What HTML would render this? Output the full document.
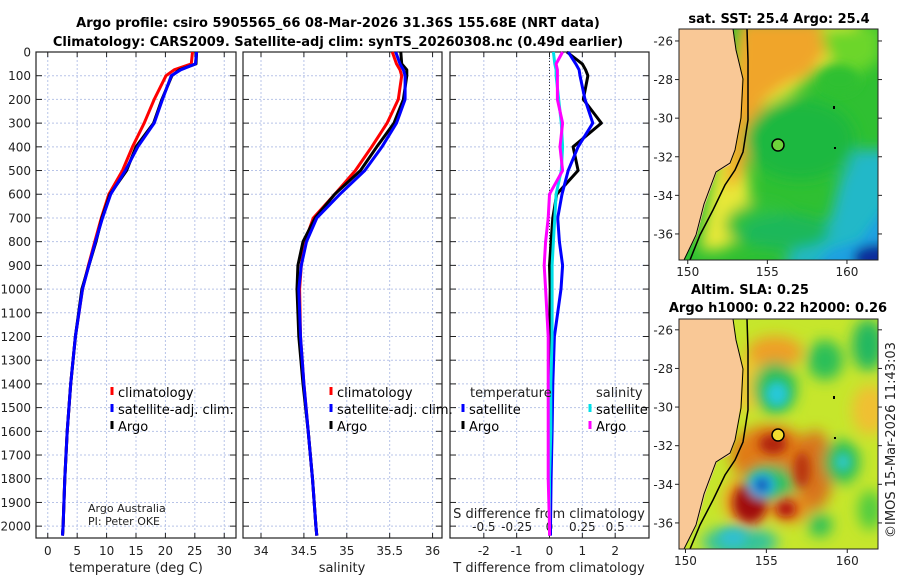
<!DOCTYPE html>
<html><head><meta charset="utf-8"><style>
body{margin:0;background:#fff;width:900px;height:580px;overflow:hidden;font-family:"DejaVu Sans","Liberation Sans",sans-serif}
svg{display:block}
text{font-family:"DejaVu Sans","Liberation Sans",sans-serif;fill:#222}
.t{font-weight:bold;font-size:13px;fill:#000}
.tk{font-size:12px}
.lg{font-size:13px;fill:#000}
</style></head><body>
<svg id="fig" width="900" height="580" viewBox="0 0 900 580" xmlns="http://www.w3.org/2000/svg">
<defs>
<filter id="blr" x="-20%" y="-20%" width="140%" height="140%"><feGaussianBlur stdDeviation="7"/></filter>
<filter id="blr2" x="-20%" y="-20%" width="140%" height="140%"><feGaussianBlur stdDeviation="5"/></filter>
<clipPath id="cm1"><rect x="679" y="29" width="199" height="231"/></clipPath>
<clipPath id="cm2"><rect x="679" y="319" width="199" height="230"/></clipPath>
</defs>
<text class="t" x="338" y="27" text-anchor="middle">Argo profile: csiro 5905565_66 08-Mar-2026 31.36S 155.68E (NRT data)</text>
<text class="t" x="338" y="46" text-anchor="middle">Climatology: CARS2009. Satellite-adj clim: synTS_20260308.nc (0.49d earlier)</text>
<g id="g1"></g>
<g id="g2"></g>
<g id="g3"></g>

<!-- SST map -->
<g>
<text class="t" x="779" y="23" text-anchor="middle">sat. SST: 25.4 Argo: 25.4</text>
<g clip-path="url(#cm1)">
<rect x="679" y="29" width="199" height="231" fill="#2fc032"/>
<g filter="url(#blr)">
<path d="M740 20 L860 20 L855 60 L820 70 L790 95 L760 110 L745 140 L750 200 L740 240 L720 250 L700 250 Z" fill="#e8e838"/>
<path d="M740 20 L820 20 L830 45 L810 75 L785 85 L765 100 L750 150 L740 180 L725 190 Z" fill="#f0a52a"/>
<path d="M855 150 L900 150 L900 270 L780 270 L800 240 L830 220 L840 180 Z" fill="#22b8c8"/>
<ellipse cx="760" cy="225" rx="35" ry="22" fill="#33c23a"/>
<ellipse cx="785" cy="232" rx="45" ry="18" fill="#1fb85a"/>
<ellipse cx="800" cy="140" rx="55" ry="40" fill="#1fb840"/>
<path d="M820 30 L880 25 L880 60 L850 80 L830 60 Z" fill="#6cd62c"/>
</g>
<g filter="url(#blr2)">
<path d="M890 200 L890 270 L810 270 L830 250 L860 240 Z" fill="#1ea0e0"/>
<ellipse cx="878" cy="258" rx="25" ry="14" fill="#0a2d9c"/>
<ellipse cx="840" cy="80" rx="20" ry="14" fill="#2fc032"/>
</g>
<path d="M660 20 L732 20 L734 40 L742 78 L740 118 L735 150 L730 165 L717 172 L705 205 L697 235 L684 260 L660 260 Z" fill="#f9c896"/>
<path d="M733 29 L736 50 L743 79 L741 118 L735 150 L730 163 L716 172 L704 204 L696 235 L684 260" fill="none" stroke="#000" stroke-width="1"/>
<path d="M747 29 L748 60 L748 90 L748 120 L743 152 L735 170 L725 185 L713 210 L700 235 L690 260" fill="none" stroke="#000" stroke-width="1.5"/>
</g>
<circle cx="778" cy="145" r="6" fill="#6fd23a" stroke="#000" stroke-width="1.5"/>
<rect x="833" y="106" width="2" height="3" fill="#000"/><rect x="834" y="147" width="2" height="2" fill="#000"/>
<rect x="679" y="29" width="199" height="231" fill="none" stroke="#222" stroke-width="1"/>
<g id="m1ticks"></g>
</g>

<!-- SLA map -->
<g>
<text class="t" x="750" y="294" text-anchor="middle">Altim. SLA: 0.25</text>
<text class="t" x="778" y="312" text-anchor="middle">Argo h1000: 0.22 h2000: 0.26</text>
<g clip-path="url(#cm2)">
<rect x="679" y="319" width="199" height="230" fill="#c6e62c"/>
<g filter="url(#blr)">
<ellipse cx="770" cy="455" rx="40" ry="30" fill="#e07a18"/>
<ellipse cx="815" cy="470" rx="18" ry="40" fill="#d8741c"/>
<ellipse cx="775" cy="352" rx="28" ry="16" fill="#ef9f28"/>
<ellipse cx="745" cy="385" rx="25" ry="25" fill="#f0c830"/>
<ellipse cx="870" cy="410" rx="18" ry="25" fill="#f0c030"/>
<ellipse cx="748" cy="500" rx="25" ry="25" fill="#f0a020"/>
<ellipse cx="790" cy="508" rx="20" ry="15" fill="#e68a1f"/>
<ellipse cx="775" cy="388" rx="22" ry="26" fill="#2cbf58"/>
<ellipse cx="825" cy="360" rx="18" ry="20" fill="#2cbf58"/>
<ellipse cx="842" cy="462" rx="18" ry="22" fill="#2cbf58"/>
<ellipse cx="868" cy="345" rx="16" ry="26" fill="#22b860"/>
<ellipse cx="740" cy="542" rx="38" ry="16" fill="#35c39a"/>
<ellipse cx="770" cy="483" rx="26" ry="18" fill="#2cc060"/>
<ellipse cx="820" cy="525" rx="12" ry="12" fill="#2cbf58"/>
<ellipse cx="870" cy="510" rx="12" ry="20" fill="#50cc40"/>
</g>
<g filter="url(#blr2)">
<ellipse cx="750" cy="503" rx="17" ry="20" fill="#a00a0a"/>
<ellipse cx="786" cy="509" rx="10" ry="8" fill="#b01010"/>
<ellipse cx="773" cy="444" rx="14" ry="10" fill="#b02010"/>
<ellipse cx="802" cy="470" rx="8" ry="18" fill="#b83010"/>
<ellipse cx="777" cy="394" rx="12" ry="13" fill="#28c8d8"/>
<ellipse cx="762" cy="485" rx="14" ry="13" fill="#28b8e8"/>
<ellipse cx="762" cy="485" rx="7" ry="7" fill="#1030b0"/>
<ellipse cx="843" cy="462" rx="8" ry="9" fill="#30c8c8"/>
<ellipse cx="733" cy="538" rx="14" ry="9" fill="#30c0d0"/>
</g>
<path d="M660 310 L732 310 L734 330 L742 368 L740 408 L735 440 L730 455 L717 462 L705 495 L697 525 L684 549 L660 549 Z" fill="#f9c896"/>
<path d="M733 319 L736 340 L743 369 L741 408 L735 440 L730 453 L716 462 L704 494 L696 525 L684 549" fill="none" stroke="#000" stroke-width="1"/>
<path d="M747 319 L748 350 L748 380 L748 410 L743 442 L735 460 L725 475 L713 500 L700 525 L690 549" fill="none" stroke="#000" stroke-width="1.5"/>
</g>
<circle cx="778" cy="435" r="6" fill="#f2dc30" stroke="#000" stroke-width="1.5"/>
<rect x="833" y="396" width="2" height="3" fill="#000"/><rect x="834" y="437" width="2" height="2" fill="#000"/>
<rect x="679" y="319" width="199" height="230" fill="none" stroke="#222" stroke-width="1"/>
<g id="m2ticks"></g>
</g>
<text transform="translate(895,440) rotate(-90)" text-anchor="middle" font-size="13" style="fill:#222">©IMOS 15-Mar-2026 11:43:03</text>
</svg>
<script>
const depths=[0,50,75,100,200,300,400,500,600,700,800,900,1000,1200,1400,1600,1800,2000,2040];
const tempClim=[24.6,24.4,21.5,20.1,18.1,16.4,14.4,12.7,10.4,9.1,8.0,6.9,5.9,4.7,3.9,3.3,2.9,2.6,2.5];
const tempSat=[25.3,25.1,22.6,21.0,19.5,18.1,15.3,13.2,10.7,9.3,8.1,7.0,5.9,4.7,3.9,3.3,2.9,2.6,2.5];
const tempArgo=[25.3,25.2,22.4,21.1,19.4,18.0,15.0,13.4,10.6,9.2,8.2,7.0,5.8,4.7,3.9,3.3,2.9,2.6,2.5];
const salClim=[35.53,35.58,35.62,35.64,35.60,35.47,35.29,35.10,34.86,34.61,34.51,34.47,34.45,34.46,34.50,34.55,34.60,34.64,34.65];
const salSat=[35.57,35.62,35.66,35.68,35.68,35.58,35.41,35.21,34.92,34.65,34.53,34.47,34.44,34.46,34.50,34.55,34.60,34.64,34.65];
const salArgo=[35.63,35.64,35.70,35.70,35.66,35.55,35.35,35.16,34.86,34.63,34.49,34.43,34.42,34.44,34.49,34.55,34.60,34.64,34.65];
const dTArgo=[0.53,1.0,1.1,1.17,1.03,1.58,0.72,0.87,0.22,0.1,0.05,0.0,0.02,0.0,0.0,0.0,0.0,0.0,0.0];
const dTSat=[0.57,0.8,0.9,0.93,1.08,1.32,0.87,0.57,0.38,0.25,0.3,0.4,0.35,0.15,0.1,0.08,0.05,0.03,0.03];
const dSArgo=[0.1,0.05,0.06,0.06,0.06,0.1,0.08,0.1,0.0,-0.01,-0.03,-0.04,-0.03,-0.01,-0.01,-0.01,-0.01,0.0,0.0];
const dSSat=[0.03,0.04,0.05,0.05,0.07,0.09,0.1,0.09,0.05,0.04,0.03,0.02,0.02,0.02,0.01,0.01,0.0,0.0,0.0];
const depthTicks=[0,100,200,300,400,500,600,700,800,900,1000,1100,1200,1300,1400,1500,1600,1700,1800,1900,2000];
const tempTicks=[0,5,10,15,20,25,30];
const salTicks=[34,34.5,35,35.5,36];
const salTickLabels=["34","34.5","35","35.5","36"];
const dTTicks=[-2,-1,0,1,2];
const dSTicks=[-0.5,-0.25,0,0.25,0.5];
const dSTickLabels=["-0.5","-0.25","0","0.25","0.5"];
const latTicks=[-26,-28,-30,-32,-34,-36];
const lonTicks=[150,155,160];

const NS='http://www.w3.org/2000/svg';
const Y0=52, Y1=538, DMAX=2050;
const yS=d=>Y0+(d/DMAX)*(Y1-Y0);
function mk(p,tag,attrs){const e=document.createElementNS(NS,tag);for(const k in attrs)e.setAttribute(k,attrs[k]);p.appendChild(e);return e;}
function panel(g,x0,x1,xmin,xmax,ticks,labels,showY){
  const xS=v=>x0+(v-xmin)/(xmax-xmin)*(x1-x0);
  ticks.forEach((t,i)=>{
    const l=mk(g,'line',{x1:xS(t),x2:xS(t),y1:Y0,y2:Y1,stroke:'#b8c4e8','stroke-width':1,'stroke-dasharray':'2,2'});
    
    
    mk(g,'line',{x1:xS(t),x2:xS(t),y1:Y1,y2:Y1-5,stroke:'#222'});
    mk(g,'line',{x1:xS(t),x2:xS(t),y1:Y0,y2:Y0+5,stroke:'#222'});
    if(labels){const tx=mk(g,'text',{x:xS(t),y:Y1+17,'text-anchor':'middle',class:'tk'});tx.textContent=labels[i];
      
      }
  });
  depthTicks.forEach(d=>{
    const l=mk(g,'line',{x1:x0,x2:x1,y1:yS(d),y2:yS(d),stroke:'#b8c4e8','stroke-width':1,'stroke-dasharray':'2,2'});
    
    
    mk(g,'line',{x1:x0,x2:x0+6,y1:yS(d),y2:yS(d),stroke:'#222'});
    mk(g,'line',{x1:x1,x2:x1-6,y1:yS(d),y2:yS(d),stroke:'#222'});
    if(showY){const tx=mk(g,'text',{x:31,y:yS(d)+4.5,'text-anchor':'end',class:'tk'});tx.textContent=d;
      
      }
  });
  const r=mk(g,'rect',{x:x0,y:Y0,width:x1-x0,height:Y1-Y0,fill:'none',stroke:'#222','stroke-width':1.2});
  
  
  return xS;
}
function line(g,xS,vals,color,name,w){
  const pts=vals.map((v,i)=>xS(v).toFixed(1)+','+yS(depths[i]).toFixed(1)).join(' ');
  const p=mk(g,'polyline',{points:pts,fill:'none',stroke:color,'stroke-width':w||3,'stroke-linejoin':'round'});
  
  
}
function legend(g,x,y,items){
  items.forEach((it,i)=>{
    mk(g,'rect',{x:x-1.5,y:y+i*17-10,width:3,height:8,fill:it[1]});
    const t=mk(g,'text',{x:x+6,y:y+i*17,class:'lg'});t.textContent=it[0];
    
    
  });
}
function label(g,x,y,txt,name,anchor,size){
  const t=mk(g,'text',{x:x,y:y,'text-anchor':anchor||'middle','font-size':size||13});t.textContent=txt;
  
  
}
// Panel 1
const g1=document.getElementById('g1');
const xT=panel(g1,36,236,-2,32,tempTicks,tempTicks.map(String),true);
line(g1,xT,tempClim,'#ff0000','temp-climatology-line');
line(g1,xT,tempArgo,'#000000','temp-argo-line');
line(g1,xT,tempSat,'#0000ff','temp-satellite-line');
legend(g1,112,397,[['climatology','#ff0000'],['satellite-adj. clim.','#0000ff'],['Argo','#000']]);
label(g1,88,512,'Argo Australia','credit-argo-australia','start',11);
label(g1,88,525,'PI: Peter OKE','credit-pi','start',11);
label(g1,136,572,'temperature (deg C)','x-axis-title-temperature');
// Panel 2
const g2=document.getElementById('g2');
const xSal=panel(g2,243,442,33.79,36.11,salTicks,salTickLabels,false);
line(g2,xSal,salClim,'#ff0000','sal-climatology-line');
line(g2,xSal,salArgo,'#000000','sal-argo-line');
line(g2,xSal,salSat,'#0000ff','sal-satellite-line');
legend(g2,331,397,[['climatology','#ff0000'],['satellite-adj. clim.','#0000ff'],['Argo','#000']]);
label(g2,342,572,'salinity','x-axis-title-salinity');
// Panel 3
const g3=document.getElementById('g3');
const xD=panel(g3,450,649,-3.03,3.03,dTTicks,dTTicks.map(String),false);
const xDS=v=>xD(v*4);
dSTicks.forEach((t,i)=>{const tx=mk(g3,'text',{x:xDS(t),y:531,'text-anchor':'middle',class:'tk'});tx.textContent=dSTickLabels[i];
  
  });
label(g3,549,518,'S difference from climatology','s-diff-axis-title');
const z=mk(g3,'line',{x1:xD(0),x2:xD(0),y1:Y0,y2:Y1,stroke:'#333','stroke-width':1,'stroke-dasharray':'1,2'});


line(g3,xD,dTArgo,'#000000','t-diff-argo-line');
line(g3,xD,dTSat,'#0000ff','t-diff-satellite-line');
line(g3,xDS,dSSat,'#00e0e8','s-diff-satellite-line');
line(g3,xDS,dSArgo,'#ff00ff','s-diff-argo-line');
label(g3,470,397,'temperature','legend-temperature-header','start');
label(g3,596,397,'salinity','legend-salinity-header','start');
legend(g3,463,414,[['satellite','#0000ff'],['Argo','#000']]);
legend(g3,590,414,[['satellite','#00e0e8'],['Argo','#ff00ff']]);
label(g3,549,572,'T difference from climatology','x-axis-title-t-diff');
// map ticks
function mapTicks(id,x0,x1,y0,y1,latTop,latBot,lonL,lonR){
  const g=document.getElementById(id);
  const xs=v=>x0+(v-lonL)/(lonR-lonL)*(x1-x0), ys=v=>y0+(latTop-v)/(latTop-latBot)*(y1-y0);
  latTicks.forEach(t=>{mk(g,'line',{x1:x0,x2:x0-4,y1:ys(t),y2:ys(t),stroke:'#222'});mk(g,'line',{x1:x1,x2:x1+4,y1:ys(t),y2:ys(t),stroke:'#222'});
    const tx=mk(g,'text',{x:x0-6,y:ys(t)+4.5,'text-anchor':'end',class:'tk'});tx.textContent=t;
    
    });
  lonTicks.forEach(t=>{mk(g,'line',{x1:xs(t),x2:xs(t),y1:y1,y2:y1+4,stroke:'#222'});
    const tx=mk(g,'text',{x:xs(t),y:y1+16,'text-anchor':'middle',class:'tk'});tx.textContent=t;
    
    });
}
mapTicks('m1ticks',679,878,29,260,-25.38,-37.35,149.45,161.95);
mapTicks('m2ticks',679,878,319,549,-25.44,-37.35,149.6,161.9);
</script>
</body></html>
